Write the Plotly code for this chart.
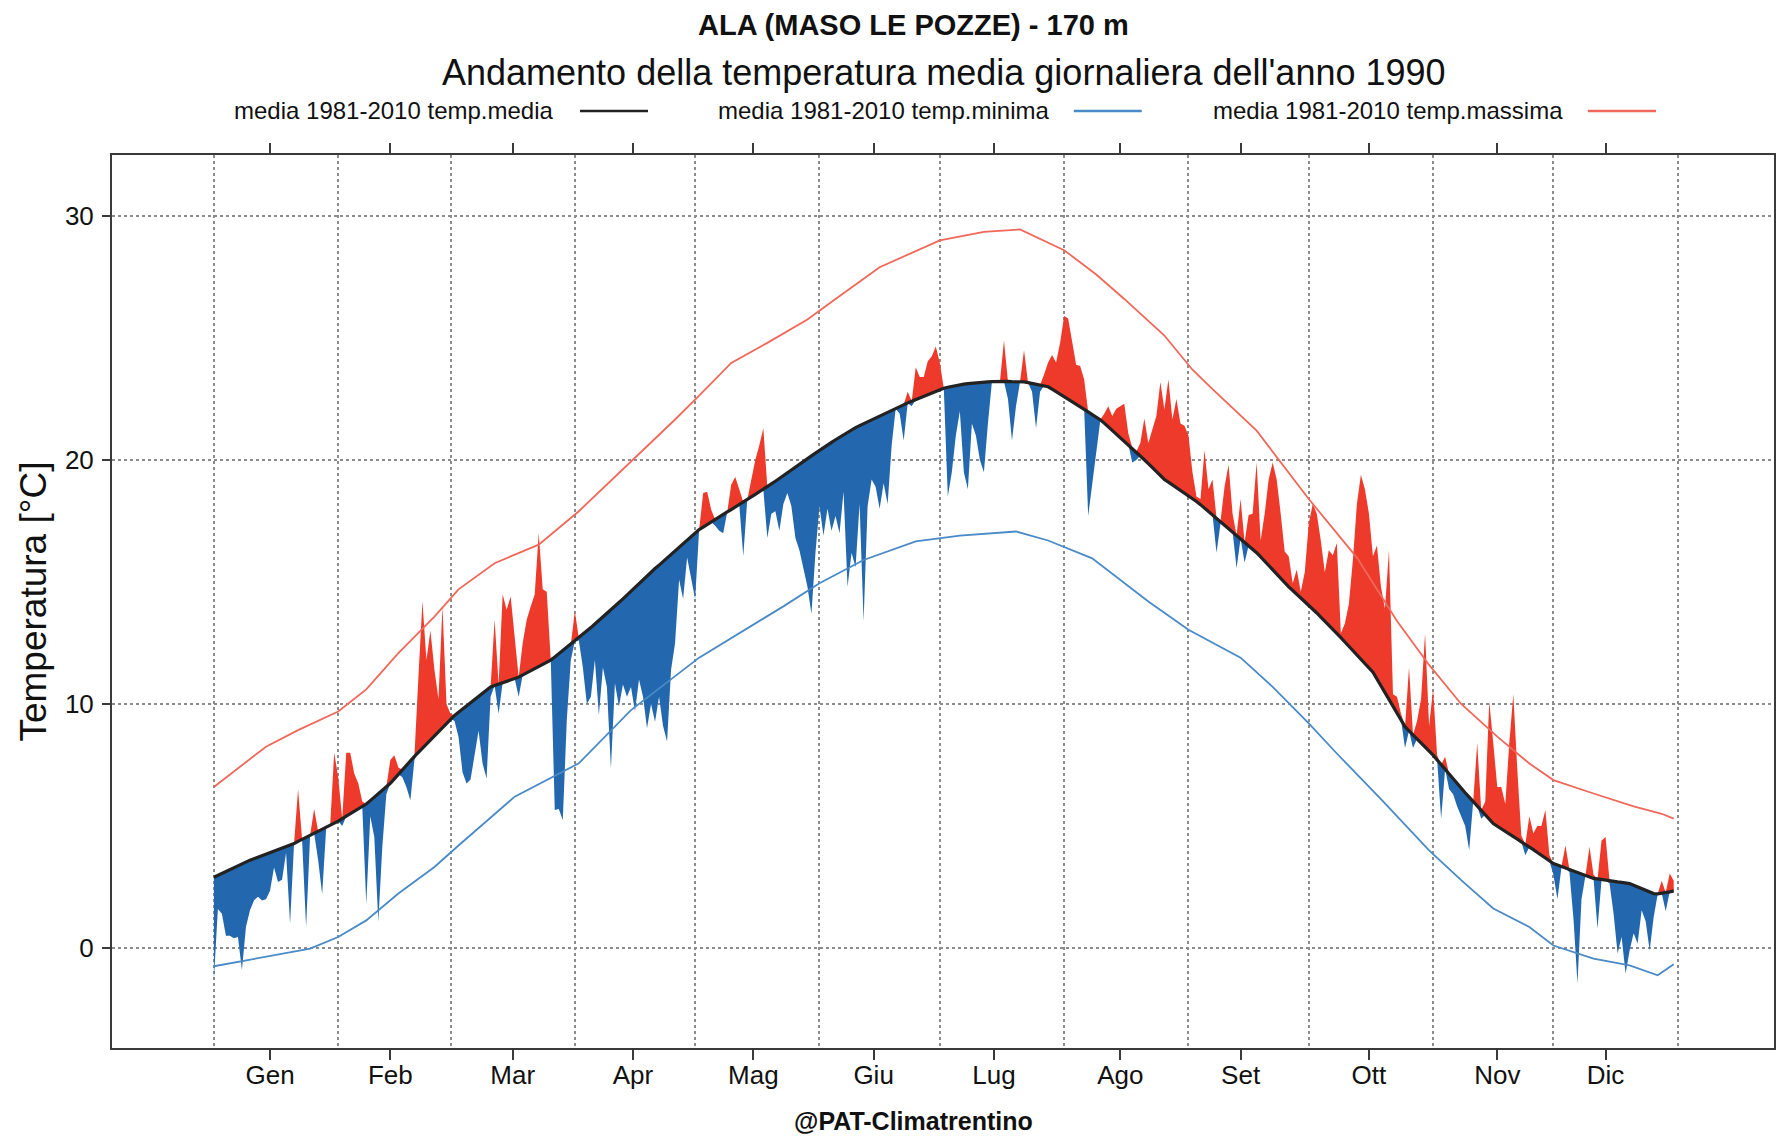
import plotly.graph_objects as go

# ---------------- data ----------------
month_labels = ["Gen", "Feb", "Mar", "Apr", "Mag", "Giu", "Lug", "Ago", "Set", "Ott", "Nov", "Dic"]
month_start_days = [1, 32, 60, 91, 121, 152, 182, 213, 244, 274, 305, 335, 366]
month_label_days = [15, 45, 75.5, 105.5, 135.5, 165.5, 195.5, 227, 257, 289, 321, 348]

days = list(range(1, 366))

# daily mean temperature 1990
tmean_1990 = [
    -1.3, 1.6, 1.4, 0.5, 0.5, 0.4, 0.45, -0.9, 0.86, 1.55,
    1.95, 2.1, 1.95, 2.0, 2.35, 3.3, 2.7, 2.8, 3.9, 1.0,
    4.3, 6.5, 4.4, 0.86, 4.6, 5.7, 3.6, 2.2, 4.9, 5.0,
    8.0, 7.0, 5.0, 8.0, 8.0, 7.15, 6.75, 6.0, 1.8, 5.4,
    4.55, 1.07, 4.15, 6.3, 7.7, 7.9, 7.4, 7.0, 6.6, 6.05,
    7.7, 11.1, 14.2, 11.8, 13.0, 11.4, 10.2, 14.0, 10.0, 9.6,
    9.3, 8.66, 7.2, 6.74, 6.9, 8.0, 8.9, 7.56, 6.95, 10.3,
    13.45, 9.6, 14.5, 13.86, 14.4, 12.76, 10.3, 12.5, 13.45, 14.0,
    14.5, 17.0, 14.7, 14.6, 11.8, 5.65, 5.7, 5.24, 9.34, 11.8,
    13.8, 12.6, 11.5, 10.0, 10.3, 11.8, 9.55, 11.5, 10.7, 7.36,
    10.85, 9.9, 10.8, 10.3, 10.7, 9.7, 11.0, 10.3, 9.0, 10.0,
    9.27, 10.3, 9.1, 8.46, 11.4, 12.5, 15.1, 14.3, 16.0, 15.1,
    14.3, 17.15, 18.65, 18.7, 17.96, 17.3, 17.1, 17.0, 17.87, 19.0,
    19.3, 18.8, 16.05, 18.38, 19.2, 20.0, 20.6, 21.3, 16.8, 17.8,
    17.9, 17.1, 18.2, 18.65, 18.1, 16.8, 16.3, 15.6, 14.8, 13.7,
    16.2, 18.1, 16.9, 18.0, 17.1, 17.7, 17.0, 18.7, 14.8, 16.2,
    15.6, 18.2, 13.4, 18.1, 19.2, 18.9, 18.0, 19.05, 18.2, 20.6,
    22.1, 21.9, 20.8, 22.8, 22.2, 23.8, 23.4, 23.4, 24.05, 24.25,
    24.65, 24.0, 22.94, 18.5, 19.5, 21.0, 22.0, 19.5, 18.8, 21.5,
    21.0, 20.0, 19.5, 21.5, 23.21, 23.22, 23.22, 24.9, 22.5, 20.8,
    22.2, 23.2, 24.5, 23.17, 22.8, 21.3, 22.8, 23.5, 24.0, 24.3,
    24.0, 24.8, 25.9, 25.8, 24.9, 23.9, 23.85, 23.3, 17.7, 19.0,
    20.4, 21.6, 21.9, 22.2, 21.8, 22.1, 22.2, 22.3, 21.1, 19.9,
    20.0, 20.7, 21.7, 20.7, 21.25, 21.8, 23.2, 22.07, 23.3, 21.66,
    22.5, 21.5, 21.4, 21.0, 19.5, 18.5, 18.4, 20.4, 18.8, 19.2,
    16.2, 17.4, 18.9, 19.8, 17.8, 15.57, 18.4, 15.8, 17.75, 17.8,
    19.9, 16.7, 17.8, 19.2, 19.9, 19.2, 17.8, 16.25, 16.05, 14.95,
    15.5, 14.6, 15.4, 17.4, 18.2, 17.8, 16.7, 15.4, 16.3, 16.1,
    16.6, 12.9, 13.3, 14.1, 15.9, 18.2, 19.4, 18.8, 17.8, 16.05,
    16.5, 14.8, 13.9, 16.3, 10.4, 10.3, 9.6, 8.2, 11.5, 8.2,
    9.3, 10.2, 12.9, 9.1, 10.6, 7.9, 5.3, 7.84, 6.5, 6.3,
    5.8, 5.4, 5.0, 4.0, 6.0, 8.4, 5.3, 6.0, 10.1, 8.4,
    6.6, 6.6, 5.9, 8.4, 10.4, 7.3, 4.6, 3.8, 5.4, 4.7,
    5.0, 5.0, 5.65, 3.8, 3.0, 2.0, 3.3, 4.2, 3.1, 1.2,
    -1.45, 2.0, 2.97, 4.15, 3.0, 0.8, 4.4, 4.55, 2.64, 1.4,
    -0.23, 0.45, -1.05, -0.1, 0.6, 0.18, 1.55, 1.1, -0.1, 1.27,
    2.2, 2.75, 1.5, 3.05, 2.75,
]

# 1981-2010 climatological daily mean
clim_mean = [
    2.90, 2.98, 3.06, 3.13, 3.21, 3.29, 3.37, 3.44, 3.52, 3.60,
    3.66, 3.72, 3.78, 3.84, 3.90, 3.96, 4.02, 4.08, 4.14, 4.20,
    4.28, 4.37, 4.45, 4.53, 4.62, 4.70, 4.78, 4.87, 4.95, 5.03,
    5.12, 5.20, 5.30, 5.40, 5.50, 5.60, 5.70, 5.80, 5.90, 6.04,
    6.18, 6.33, 6.47, 6.61, 6.75, 6.93, 7.12, 7.30, 7.48, 7.67,
    7.85, 8.02, 8.19, 8.37, 8.54, 8.71, 8.88, 9.06, 9.23, 9.40,
    9.53, 9.66, 9.79, 9.92, 10.05, 10.18, 10.31, 10.44, 10.57, 10.70,
    10.76, 10.81, 10.87, 10.93, 10.99, 11.04, 11.10, 11.19, 11.28, 11.36,
    11.45, 11.54, 11.63, 11.71, 11.80, 11.93, 12.06, 12.19, 12.31, 12.44,
    12.57, 12.70, 12.84, 12.99, 13.13, 13.28, 13.42, 13.57, 13.71, 13.86,
    14.00, 14.16, 14.31, 14.47, 14.62, 14.78, 14.93, 15.09, 15.24, 15.40,
    15.55, 15.69, 15.84, 15.98, 16.13, 16.28, 16.42, 16.57, 16.71, 16.86,
    17.00, 17.15, 17.25, 17.36, 17.46, 17.56, 17.66, 17.77, 17.87, 17.97,
    18.08, 18.18, 18.28, 18.38, 18.49, 18.59, 18.69, 18.80, 18.90, 19.02,
    19.13, 19.25, 19.36, 19.48, 19.59, 19.71, 19.82, 19.94, 20.05, 20.17,
    20.28, 20.40, 20.51, 20.61, 20.72, 20.83, 20.93, 21.04, 21.14, 21.25,
    21.33, 21.41, 21.49, 21.57, 21.65, 21.73, 21.80, 21.88, 21.96, 22.04,
    22.12, 22.20, 22.27, 22.34, 22.41, 22.48, 22.55, 22.62, 22.69, 22.76,
    22.83, 22.90, 22.94, 22.98, 23.02, 23.05, 23.08, 23.11, 23.13, 23.15,
    23.17, 23.18, 23.19, 23.20, 23.21, 23.22, 23.22, 23.22, 23.22, 23.21,
    23.21, 23.20, 23.20, 23.17, 23.14, 23.11, 23.07, 23.04, 23.00, 22.90,
    22.80, 22.70, 22.60, 22.49, 22.39, 22.28, 22.18, 22.07, 21.97, 21.86,
    21.76, 21.65, 21.51, 21.36, 21.22, 21.07, 20.93, 20.79, 20.64, 20.50,
    20.34, 20.18, 20.01, 19.85, 19.69, 19.53, 19.36, 19.20, 19.09, 18.98,
    18.86, 18.75, 18.64, 18.53, 18.41, 18.30, 18.17, 18.03, 17.90, 17.77,
    17.63, 17.50, 17.36, 17.21, 17.07, 16.92, 16.78, 16.64, 16.49, 16.34,
    16.20, 16.03, 15.85, 15.68, 15.50, 15.33, 15.15, 14.98, 14.80, 14.65,
    14.50, 14.36, 14.21, 14.06, 13.89, 13.73, 13.56, 13.40, 13.23, 13.07,
    12.90, 12.72, 12.54, 12.37, 12.19, 12.01, 11.83, 11.66, 11.48, 11.30,
    11.02, 10.74, 10.46, 10.18, 9.91, 9.63, 9.35, 9.07, 8.90, 8.74,
    8.57, 8.40, 8.23, 8.07, 7.90, 7.71, 7.51, 7.32, 7.12, 6.93,
    6.73, 6.54, 6.36, 6.18, 6.00, 5.82, 5.64, 5.46, 5.28, 5.10,
    4.99, 4.89, 4.78, 4.67, 4.57, 4.46, 4.35, 4.25, 4.14, 4.03,
    3.91, 3.80, 3.69, 3.57, 3.46, 3.40, 3.34, 3.28, 3.22, 3.16,
    3.09, 3.03, 2.97, 2.91, 2.85, 2.83, 2.80, 2.78, 2.76, 2.74,
    2.71, 2.69, 2.67, 2.64, 2.57, 2.50, 2.44, 2.37, 2.30, 2.23,
    2.22, 2.24, 2.27, 2.30, 2.34,
]

# 1981-2010 climatological maximum (read at selected days)
clim_max_days = [1, 14, 22, 32, 39, 47, 56, 60, 62, 71, 82, 92, 105, 110, 116, 122, 130, 139, 149, 156,
                 167, 182, 193, 202, 213, 221, 228, 238, 245, 250, 261, 274, 286, 296, 304, 312, 321, 329,
                 335, 345, 355, 362, 365]
clim_max = [6.6, 8.25, 8.93, 9.69, 10.6, 12.08, 13.58, 14.3, 14.7, 15.77, 16.53, 17.9, 19.95, 20.7, 21.66,
            22.64, 23.98, 24.8, 25.76, 26.6, 27.9, 29.0, 29.35, 29.45, 28.6, 27.6, 26.6, 25.1, 23.7, 22.9,
            21.2, 18.4, 16.0, 13.4, 11.6, 10.0, 8.66, 7.56, 6.88, 6.33, 5.8, 5.5, 5.3]

# 1981-2010 climatological minimum (read at selected days)
clim_min_days = [1, 14, 25, 32, 39, 47, 56, 62, 64, 76, 92, 105, 122, 130, 143, 152, 163, 176, 187, 201,
                 209, 220, 234, 244, 257, 265, 274, 281, 292, 304, 312, 320, 329, 335, 345, 354, 361, 365]
clim_min = [-0.75, -0.37, -0.03, 0.45, 1.13, 2.23, 3.32, 4.2, 4.49, 6.2, 7.57, 9.75, 11.9, 12.7, 14.0,
            14.95, 15.9, 16.66, 16.9, 17.07, 16.7, 15.97, 14.2, 13.04, 11.9, 10.7, 9.2, 7.97, 6.1, 4.0,
            2.78, 1.62, 0.86, 0.1, -0.44, -0.71, -1.12, -0.67]

y_ticks = [0, 10, 20, 30]

# ---------------- figure ----------------
FONT = "Liberation Sans, Arial, Helvetica, sans-serif"
RED_FILL = "#ee3a2a"
BLUE_FILL = "#2368ae"
MEAN_COL = "#222222"
MIN_COL = "#4a8ac6"
MAX_COL = "#f0685a"
GRID_COL = "#8c8c8c"
AXIS_COL = "#3a3a3a"

upper = [max(t, c) for t, c in zip(tmean_1990, clim_mean)]
lower = [min(t, c) for t, c in zip(tmean_1990, clim_mean)]

fig = go.Figure()
fig.add_trace(go.Scatter(x=days, y=clim_mean, mode="lines", line=dict(width=0, color=RED_FILL),
                         showlegend=False, hoverinfo="skip"))
fig.add_trace(go.Scatter(x=days, y=upper, mode="lines", line=dict(width=0, color=RED_FILL),
                         fill="tonexty", fillcolor=RED_FILL, showlegend=False, name="1990 sopra media"))
fig.add_trace(go.Scatter(x=days, y=clim_mean, mode="lines", line=dict(width=0, color=BLUE_FILL),
                         showlegend=False, hoverinfo="skip"))
fig.add_trace(go.Scatter(x=days, y=lower, mode="lines", line=dict(width=0, color=BLUE_FILL),
                         fill="tonexty", fillcolor=BLUE_FILL, showlegend=False, name="1990 sotto media"))
fig.add_trace(go.Scatter(x=clim_min_days, y=clim_min, mode="lines", line=dict(color=MIN_COL, width=1.8),
                         name="media 1981-2010 temp.minima", showlegend=False))
fig.add_trace(go.Scatter(x=clim_max_days, y=clim_max, mode="lines", line=dict(color=MAX_COL, width=1.8),
                         name="media 1981-2010 temp.massima", showlegend=False))
fig.add_trace(go.Scatter(x=days, y=clim_mean, mode="lines", line=dict(color=MEAN_COL, width=3.2),
                         name="media 1981-2010 temp.media", showlegend=False))

fig.update_xaxes(
    range=[-24.4, 390.0], tickmode="array", tickvals=month_label_days, ticktext=month_labels,
    ticks="outside", ticklen=10, tickwidth=1.5, tickcolor=AXIS_COL, ticklabelstandoff=-7,
    showgrid=False, zeroline=False, showline=True, linecolor=AXIS_COL, linewidth=2, mirror="ticks",
    tickfont=dict(size=26, color="#111111", family=FONT),
    minor=dict(tickmode="array", tickvals=month_start_days, showgrid=True, gridcolor=GRID_COL,
               gridwidth=1.5, griddash="dot", ticks=""),
)
fig.update_yaxes(
    range=[-4.1, 32.5], tickmode="array", tickvals=y_ticks, ticks="outside", ticklen=8, tickwidth=1.5,
    tickcolor=AXIS_COL, ticklabelstandoff=3,
    showgrid=True, gridcolor=GRID_COL, gridwidth=1.5, griddash="dot",
    zeroline=False, showline=True, linecolor=AXIS_COL, linewidth=2, mirror=True,
    tickfont=dict(size=26, color="#111111", family=FONT),
)

annotations = [
    dict(text="<b>ALA (MASO LE POZZE) - 170 m</b>", x=0.482, y=1.1456, font=dict(size=29, color="#111111")),
    dict(text="Andamento della temperatura media giornaliera dell'anno 1990", x=0.5006, y=1.0923,
         font=dict(size=36, color="#111111")),
    dict(text="Temperatura [°C]", x=-0.0475, y=0.5, textangle=-90, font=dict(size=37, color="#111111")),
    dict(text="<b>@PAT-Climatrentino</b>", x=0.482, y=-0.0823, font=dict(size=25, color="#111111")),
]
legend_items = [
    ("media 1981-2010 temp.media", 0.0724, 0.2816, 0.3225, MEAN_COL, 2.5),
    ("media 1981-2010 temp.minima", 0.3634, 0.5787, 0.6196, MIN_COL, 2.5),
    ("media 1981-2010 temp.massima", 0.661, 0.8880, 0.9290, MAX_COL, 2.5),
]
shapes = []
for label, xt, x0, x1, col, w in legend_items:
    annotations.append(dict(text=label, x=xt, y=1.0493, xanchor="left", font=dict(size=24, color="#111111")))
    shapes.append(dict(type="line", xref="paper", yref="paper", x0=x0, x1=x1, y0=1.0493, y1=1.0493,
                       line=dict(color=col, width=w)))
for a in annotations:
    a.setdefault("xref", "paper")
    a.setdefault("yref", "paper")
    a.setdefault("showarrow", False)
    a.setdefault("xanchor", "center")
    a.setdefault("yanchor", "middle")
    a["font"].setdefault("family", FONT)

fig.update_layout(
    width=1778, height=1136, margin=dict(l=112, r=2, t=155, b=88),
    paper_bgcolor="white", plot_bgcolor="white", showlegend=False,
    annotations=annotations, shapes=shapes, font=dict(family=FONT, color="#111111"),
)

fig.write_html("out.html", config={"displayModeBar": False},
               post_script="document.body.style.margin='0';")
